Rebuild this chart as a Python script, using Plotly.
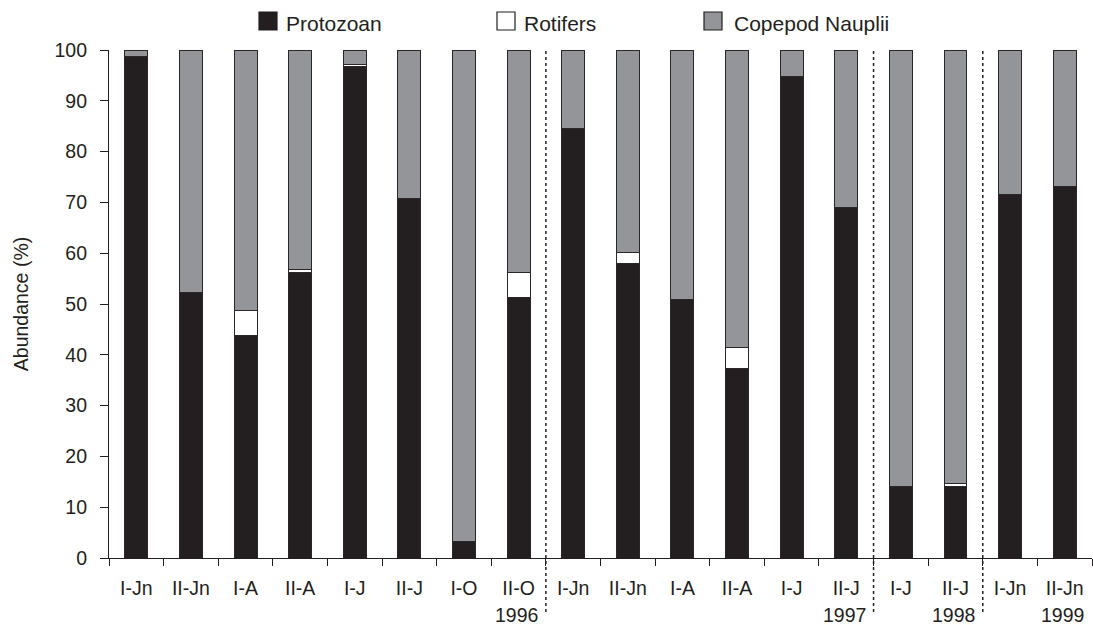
import plotly.graph_objects as go

# Sampling stations/months and the year each group belongs to
labels = ["I-Jn", "II-Jn", "I-A", "II-A", "I-J", "II-J", "I-O", "II-O",
          "I-Jn", "II-Jn", "I-A", "II-A", "I-J", "II-J",
          "I-J", "II-J",
          "I-Jn", "II-Jn"]
years = ["1996", "1997", "1998", "1999"]
year_last_index = [7, 13, 15, 17]

# Relative abundance (%) of each group
protozoan = [98.7, 52.2, 43.8, 56.3, 96.8, 70.7, 3.2, 51.3,
             84.5, 58.0, 50.9, 37.3, 94.7, 69.0,
             14.0, 14.1,
             71.5, 73.2]
rotifers = [0.0, 0.0, 4.9, 0.5, 0.3, 0.0, 0.0, 5.0,
            0.0, 2.2, 0.0, 4.1, 0.0, 0.0,
            0.0, 0.6,
            0.0, 0.0]
copepod = [round(100 - p - r, 1) for p, r in zip(protozoan, rotifers)]

series_names = ["Protozoan", "Rotifers", "Copepod Nauplii"]
series_colors = ["#231f20", "#ffffff", "#939598"]

x = list(range(len(labels)))
edge = "#2b2728"
ink = "#231f20"
font_family = "Liberation Sans, Arial, sans-serif"

W, H = 1093, 625
ML, MR, MT, MB = 109, 1, 50, 67
PW, PH = W - ML - MR, H - MT - MB


def px_x(px):
    return (px - ML) / PW


def px_y(py):
    return (H - MB - py) / PH


fig = go.Figure()
for name, vals, col in zip(series_names, [protozoan, rotifers, copepod], series_colors):
    fig.add_trace(go.Bar(x=x, y=vals, name=name, showlegend=False,
                         marker=dict(color=col, line=dict(color=edge, width=1))))

# Invisible trace on the overlay axis that carries the boundary ticks
fig.add_trace(go.Scatter(x=[-0.5, 17.5], y=[0, 0], xaxis="x2", mode="markers",
                         marker=dict(opacity=0), showlegend=False, hoverinfo="skip"))

fig.update_layout(
    width=W, height=H,
    margin=dict(l=ML, r=MR, t=MT, b=MB, autoexpand=False),
    barmode="stack", bargap=0.58,
    plot_bgcolor="white", paper_bgcolor="white",
    font=dict(family=font_family, size=19.5, color=ink),
    xaxis=dict(range=[-0.5, 17.5], tickmode="array", tickvals=x, ticktext=labels,
               ticks="", ticklabelstandoff=12, showline=True, linecolor=ink, linewidth=1.2,
               showgrid=False, zeroline=False, tickfont=dict(size=19.5)),
    xaxis2=dict(range=[-0.5, 17.5], overlaying="x", anchor="y", side="bottom",
                tickmode="array", tickvals=[i - 0.5 for i in range(19)],
                ticks="outside", ticklen=7, tickwidth=1.2, tickcolor=ink,
                showticklabels=False, showgrid=False, zeroline=False, showline=False),
    yaxis=dict(range=[0, 100], tickmode="array", tickvals=list(range(0, 101, 10)),
               ticks="outside", ticklen=8, tickwidth=1.2, tickcolor=ink,
               ticklabelstandoff=9,
               showline=True, linecolor=ink, linewidth=1.2,
               showgrid=False, zeroline=False, tickfont=dict(size=19.5),
               title=dict(text="Abundance (%)", font=dict(size=19.5), standoff=20)),
)

# Legend drawn as swatches + labels across the top
legend_items = [(259, 284), (497, 522), (704, 732)]
for (sx, tx), name, col in zip(legend_items, series_names, series_colors):
    fig.add_shape(type="rect", xref="paper", yref="paper",
                  x0=px_x(sx), x1=px_x(sx + 18), y0=px_y(30), y1=px_y(12),
                  fillcolor=col, line=dict(color=ink, width=1.2))
    fig.add_annotation(x=px_x(tx), y=px_y(23), xref="paper", yref="paper", text=name,
                       showarrow=False, xanchor="left", yanchor="middle",
                       font=dict(size=21, color=ink))

# Dotted separators between years
for idx in year_last_index[:-1]:
    fig.add_shape(type="line", xref="x", yref="paper", x0=idx + 0.5, x1=idx + 0.5,
                  y0=px_y(612), y1=1.0, line=dict(color=ink, width=1.5, dash="dot"))

# Year labels under the last sample of each year
for yr, idx in zip(years, year_last_index):
    fig.add_annotation(x=idx + 0.5, y=px_y(615), xref="x", yref="paper", text=yr,
                       showarrow=False, xanchor="right", yanchor="middle", xshift=-6,
                       font=dict(size=19.5, color=ink))

fig.write_html("out.html")
